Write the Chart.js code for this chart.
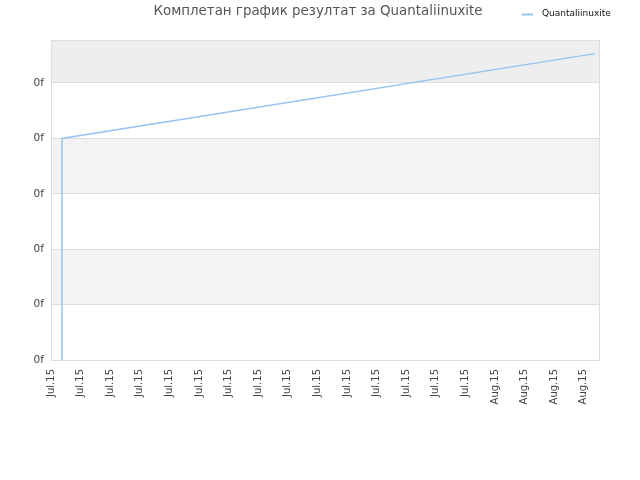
<!DOCTYPE html>
<html>
<head>
<meta charset="utf-8">
<script src="https://cdn.jsdelivr.net/npm/chart.js@4/dist/chart.umd.min.js"></script>
<style>
    html, body { margin: 0; padding: 0; background: #fff; }
    #wrap { width: 640px; height: 480px; }
</style>
</head>
<body>
<div id="wrap"><canvas id="graph-canvas" width="640" height="480"></canvas></div>
<script>
const TITLE = 'Комплетан график резултат за Quantaliinuxite';
const SERIES_NAME = 'Quantaliinuxite';

const xLabels = [
    'Jul.15', 'Jul.15', 'Jul.15', 'Jul.15', 'Jul.15', 'Jul.15', 'Jul.15', 'Jul.15',
    'Jul.15', 'Jul.15', 'Jul.15', 'Jul.15', 'Jul.15', 'Jul.15', 'Jul.15',
    'Aug.15', 'Aug.15', 'Aug.15', 'Aug.15'
];
const yTickValues = [0, 1, 2, 3, 4, 5];
const yTickLabels = ['0f', '0f', '0f', '0f', '0f', '0f'];

const seriesX = [0.37, 0.37, 18.38];
const seriesY = [0, 4, 5.53];

const SETTINGS = {
    lineColor: 'rgb(150, 196, 242)',
    gridColor: '#dddddd',
    bandDark: '#eeeeee',
    bandLight: '#f3f3f3',
    font: 'DejaVu Sans',
};

// background bands + frame behind the plot
const bandsPlugin = {
    id: 'bands',
    beforeDraw(chart) {
        const { ctx, chartArea: a, scales: { y } } = chart;
        ctx.save();
        const top5 = y.getPixelForValue(5);
        ctx.fillStyle = SETTINGS.bandDark;
        ctx.fillRect(a.left, a.top, a.right - a.left, top5 - a.top);
        ctx.fillStyle = SETTINGS.bandLight;
        [[3, 4], [1, 2]].forEach(([lo, hi]) => {
            const y1 = y.getPixelForValue(hi);
            const y2 = y.getPixelForValue(lo);
            ctx.fillRect(a.left, y1, a.right - a.left, y2 - y1);
        });
        ctx.restore();
    },
    afterDatasetsDraw(chart) {
        const { ctx, chartArea: a } = chart;
        ctx.save();
        ctx.strokeStyle = SETTINGS.gridColor;
        ctx.lineWidth = 1;
        ctx.strokeRect(a.left + 0.5, a.top + 0.5, a.right - a.left - 1, a.bottom - a.top);
        ctx.restore();
    }
};

// title and legend drawn at fixed spots
const headerPlugin = {
    id: 'header',
    afterDraw(chart) {
        const ctx = chart.ctx;
        ctx.save();
        ctx.fillStyle = '#555555';
        ctx.font = '13.4px "' + SETTINGS.font + '"';
        ctx.textAlign = 'center';
        ctx.textBaseline = 'middle';
        ctx.fillText(TITLE, 318, 12);

        ctx.strokeStyle = SETTINGS.lineColor;
        ctx.lineWidth = 2;
        ctx.beginPath();
        ctx.moveTo(522, 14.5);
        ctx.lineTo(533, 14.5);
        ctx.stroke();

        ctx.fillStyle = '#111111';
        ctx.font = '9px "' + SETTINGS.font + '"';
        ctx.textAlign = 'left';
        ctx.fillText(SERIES_NAME, 542, 13.5);
        ctx.restore();
    }
};

document.addEventListener('DOMContentLoaded', function () {
    const graph = document.getElementById('graph-canvas').getContext('2d');

    new Chart(graph, {
        type: 'line',
        data: {
            datasets: [{
                label: SERIES_NAME,
                data: seriesX.map((x, i) => ({ x: x, y: seriesY[i] })),
                borderColor: SETTINGS.lineColor,
                borderWidth: 1.5,
                pointRadius: 0,
                tension: 0,
                fill: false
            }]
        },
        options: {
            responsive: false,
            animation: false,
            layout: { padding: { top: 40, right: 40, left: 0, bottom: 0 } },
            plugins: {
                legend: { display: false },
                title: { display: false },
                tooltip: { enabled: false }
            },
            scales: {
                x: {
                    type: 'linear',
                    min: 0,
                    max: 18.55,
                    afterBuildTicks: scale => {
                        scale.ticks = xLabels.map((_, i) => ({ value: i }));
                    },
                    afterFit: scale => { scale.height = 120; },
                    grid: { display: false, drawTicks: false },
                    border: { display: false },
                    ticks: {
                        autoSkip: false,
                        minRotation: 90,
                        maxRotation: 90,
                        padding: 9,
                        color: '#444444',
                        font: { family: SETTINGS.font, size: 10 },
                        callback: (v, i) => xLabels[i]
                    }
                },
                y: {
                    type: 'linear',
                    min: 0,
                    max: 5.776,
                    afterBuildTicks: scale => {
                        scale.ticks = yTickValues.map(v => ({ value: v }));
                    },
                    afterFit: scale => { scale.width = 51; },
                    grid: { color: SETTINGS.gridColor, drawTicks: false },
                    border: { display: false },
                    ticks: {
                        padding: 7,
                        color: '#444444',
                        font: { family: SETTINGS.font, size: 10.5 },
                        callback: (v, i) => yTickLabels[i]
                    }
                }
            }
        },
        plugins: [bandsPlugin, headerPlugin]
    });
});
</script>
</body>
</html>
